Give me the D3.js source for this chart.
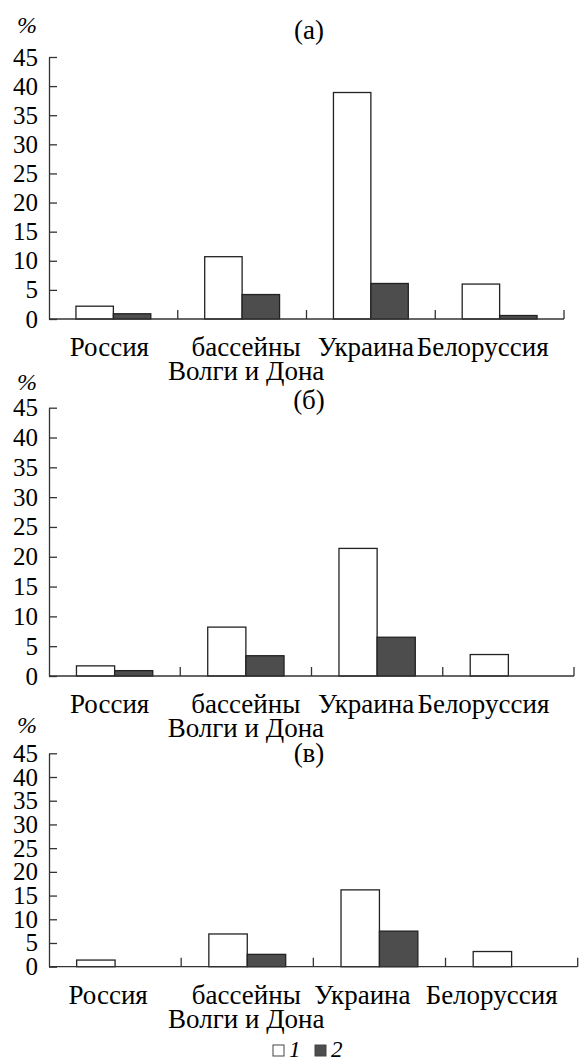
<!DOCTYPE html>
<html>
<head>
<meta charset="utf-8">
<script src="https://cdn.jsdelivr.net/npm/d3@7"></script>
<style>body{margin:0}</style>
</head>
<body>
<svg id="chart" width="581" height="1061"></svg>
<script>
// Categories (multi-line labels split into lines)
const categories = ["Россия", "бассейны Волги и Дона", "Украина", "Белоруссия"];
const categoryLines = [["Россия"], ["бассейны", "Волги и Дона"], ["Украина"], ["Белоруссия"]];
const seriesKeys = ["1", "2"];
const yTickValues = [0, 5, 10, 15, 20, 25, 30, 35, 40, 45];
const panelTitles = ["(а)", "(б)", "(в)"];

// Panel (а)
const seriesA1 = [2.2, 10.7, 38.9, 6.0];
const seriesA2 = [0.9, 4.2, 6.1, 0.6];
// Panel (б)
const seriesB1 = [1.7, 8.2, 21.4, 3.6];
const seriesB2 = [0.9, 3.4, 6.5, 0];
// Panel (в)
const seriesC1 = [1.4, 6.9, 16.2, 3.2];
const seriesC2 = [0, 2.6, 7.5, 0];

// Layout for each panel
const axisLeft = 49;
const layouts = [
  { top: 57, bottom: 319, right: 564, titleY: 39, pctY: 33, labelDx: [-4, 4, -5, -17] },
  { top: 407.7, bottom: 676, right: 574, titleY: 409, pctY: 390, labelDx: [-5, 0, -11, -25] },
  { top: 753.3, bottom: 966.7, right: 577.7, titleY: 762, pctY: 733, labelDx: [-7, -1, -17, -20] }
];
const panelData = [
  [seriesA1, seriesA2],
  [seriesB1, seriesB2],
  [seriesC1, seriesC2]
];

const fills = ["#ffffff", "#4d4d4d"];
const axisColor = "#333";

const svg = d3.select("#chart");

// All texts go straight onto the svg root, set in Liberation Serif
function addText(x, y, size, str, anchor, italic) {
  const t = svg.append("text")
    .attr("x", x).attr("y", y)
    .attr("font-size", size)
    .style("font-family", "'Liberation Serif'");
  if (anchor) t.style("text-anchor", anchor);
  if (italic) t.style("font-style", "italic");
  if (str !== null) t.text(str);
  return t;
}

panelData.forEach((series, pi) => {
  const L = layouts[pi];
  const g = svg.append("g");

  const x = d3.scaleBand().domain(categories).range([axisLeft, L.right]).padding(0);
  const xInner = d3.scaleBand().domain(seriesKeys).range([0, x.bandwidth()])
    .paddingInner(0).paddingOuter(0.72);
  const y = d3.scaleLinear().domain([0, 45]).range([L.bottom, L.top]);

  // Bars
  seriesKeys.forEach((k, si) => {
    g.selectAll(null)
      .data(categories.map((c, ci) => ({ c, v: series[si][ci] })).filter(d => d.v > 0))
      .join("rect")
      .attr("x", d => x(d.c) + xInner(k))
      .attr("y", d => y(d.v))
      .attr("width", xInner.bandwidth())
      .attr("height", d => y(0) - y(d.v))
      .attr("fill", fills[si])
      .attr("stroke", "#222")
      .attr("stroke-width", 1.3);
  });

  // Y axis: line and inward ticks from the axis generator, labels as root texts
  const yAxis = g.append("g")
    .attr("transform", `translate(${axisLeft},0)`)
    .call(d3.axisLeft(y).tickValues(yTickValues).tickSize(-8).tickSizeOuter(0).tickFormat(""));
  yAxis.select(".domain").attr("stroke", axisColor).attr("stroke-width", 1.3);
  yAxis.selectAll(".tick line").attr("stroke", axisColor).attr("stroke-width", 1.3);
  yAxis.selectAll(".tick text").remove();
  yTickValues.forEach(v => {
    addText(axisLeft - 11, y(v), 25, String(v), "end", false).attr("dy", "0.34em");
  });

  // X axis line with category boundary ticks
  g.append("line")
    .attr("x1", axisLeft).attr("x2", L.right)
    .attr("y1", y(0)).attr("y2", y(0))
    .attr("stroke", axisColor).attr("stroke-width", 1.3);
  const boundaries = categories.slice(1).map(c => x(c)).concat([L.right]);
  g.selectAll(null).data(boundaries).join("line")
    .attr("x1", d => d).attr("x2", d => d)
    .attr("y1", y(0)).attr("y2", y(0) - 9)
    .attr("stroke", axisColor).attr("stroke-width", 1.3);

  // Category labels
  categories.forEach((c, ci) => {
    const cx = x(c) + x.bandwidth() / 2 + L.labelDx[ci];
    categoryLines[ci].forEach((line, li) => {
      addText(cx, y(0) + 37 + li * 24, 27, line, "middle", false);
    });
  });

  // Unit label and panel title
  addText(27, L.pctY, 24, "%", "middle", true);
  addText(309, L.titleY, 27, panelTitles[pi], "middle", false);
});

// Legend
const legendX = 273, legendY = 1043;
seriesKeys.forEach((k, i) => {
  const gx = legendX + i * 42;
  svg.append("rect")
    .attr("x", gx).attr("y", legendY + 2)
    .attr("width", 11).attr("height", 11)
    .attr("fill", fills[i])
    .attr("stroke", "#444").attr("stroke-width", 1);
  addText(gx + 16, legendY + 14, 23, k, null, true);
});
</script>
</body>
</html>
